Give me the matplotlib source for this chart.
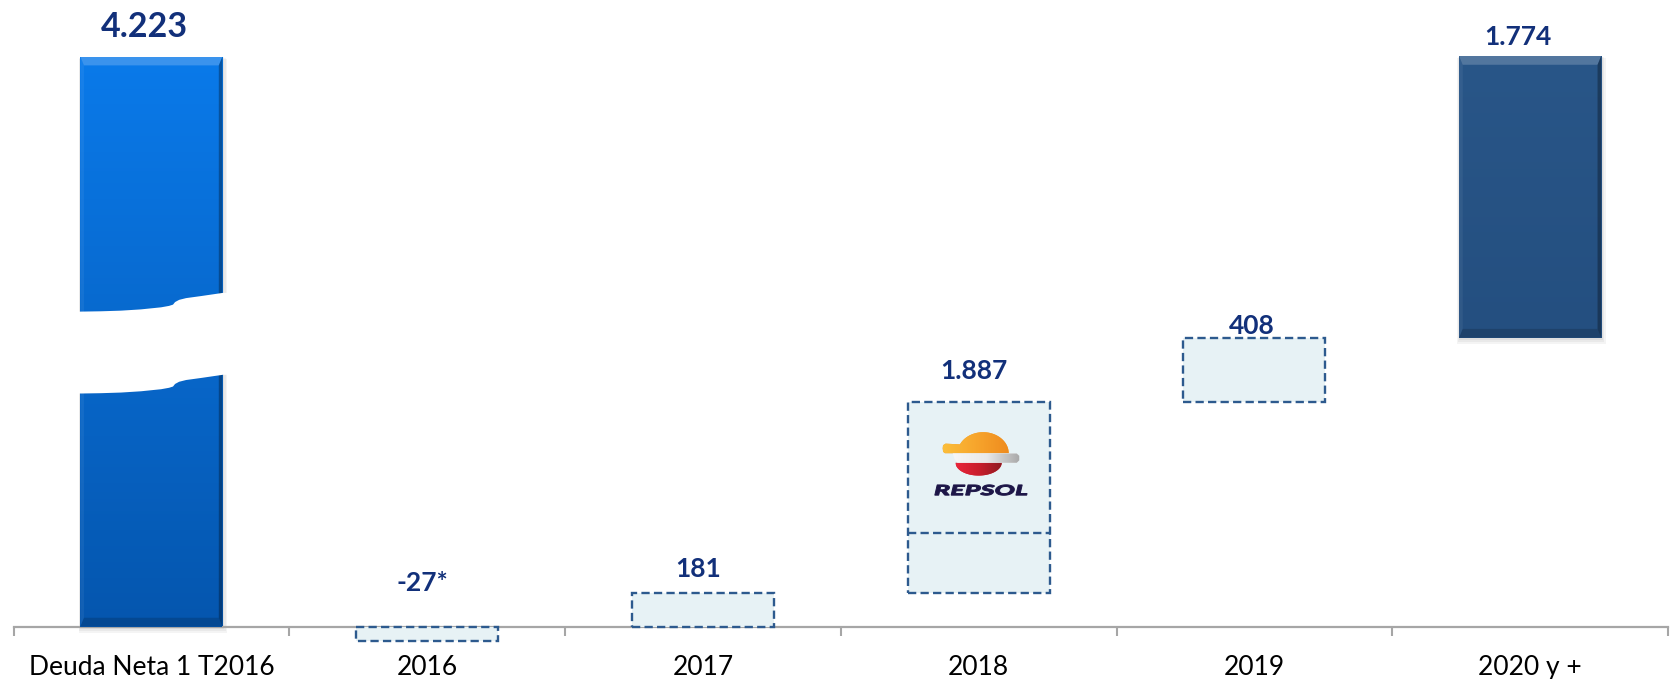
import numpy as np
import matplotlib
matplotlib.use('Agg')
import matplotlib.pyplot as plt
from matplotlib.colors import LinearSegmentedColormap
from matplotlib.patches import Polygon, PathPatch
from matplotlib.textpath import TextPath
from matplotlib.font_manager import FontProperties
from matplotlib.transforms import Affine2D

plt.rcParams['font.family'] = ['Lato', 'DejaVu Sans']

# datos (millones de euros)
categories = ['Deuda Neta 1 T2016', '2016', '2017', '2018', '2019', '2020 y +']
values = [4223, -27, 181, 1887, 408, 1774]
# la lámina no está a escala: alturas tal como se dibujan, en las mismas unidades
drawn = [3590, -90, 211, 1201, 408, 1774]
repsol_part = 379          # tramo inferior de la caja de 2018

value_labels = [f'{v:,}'.replace(',', '.') for v in values]
value_labels[1] += '*'

NAVY = '#12307A'
BOX_FILL = '#E7F2F5'
BOX_EDGE = '#2D5A8E'
AXIS_GREY = '#A6A6A6'
W = 0.515
DASH = (0, (3.5, 1.8))
DASH_LW = 1.7


def gradient(ax, patch, colors, horizontal=False, z=None):
    ext = patch.get_path().get_extents() if isinstance(patch, Polygon) else patch.get_bbox()
    g = np.linspace(0, 1, 256)
    g = g.reshape(1, -1) if horizontal else g.reshape(-1, 1)
    cmap = LinearSegmentedColormap.from_list('g', colors)
    im = ax.imshow(g, cmap=cmap, extent=(ext.x0, ext.x1, ext.y0, ext.y1), origin='lower',
                   aspect='auto', interpolation='bicubic',
                   zorder=(patch.zorder + 0.1) if z is None else z)
    im.set_clip_path(patch)
    return im


def solid_bar(ax, i, bottom, height, c_top, c_bot):
    # sombra suave
    for k in range(1, 4):
        ax.bar(i + 0.002 * k, height + 10 * k, bottom=bottom - 14 * k, width=W + 0.008 * k,
               color='black', alpha=0.045, lw=0, zorder=2)
    rect = ax.bar(i, height, bottom=bottom, width=W, color=c_bot, lw=0, zorder=3)[0]
    gradient(ax, rect, [c_bot, c_top])
    # biselado
    x0, x1 = i - W / 2, i + W / 2
    y0, y1 = bottom, bottom + height
    bx, by = 0.013, 55
    ax.fill([x0, x1, x1 - bx, x0 + bx], [y1, y1, y1 - by, y1 - by], color='white', alpha=0.2, lw=0, zorder=4)
    ax.fill([x0, x1, x1 - bx, x0 + bx], [y0, y0, y0 + by, y0 + by], color='black', alpha=0.16, lw=0, zorder=4)
    ax.fill([x0, x0, x0 + bx, x0 + bx], [y0, y1, y1 - by, y0 + by], color='white', alpha=0.06, lw=0, zorder=4)
    ax.fill([x1, x1, x1 - bx, x1 - bx], [y0, y1, y1 - by, y0 + by], color='black', alpha=0.3, lw=0, zorder=4)
    return rect


fig = plt.figure(figsize=(16.71, 6.79), dpi=100)
ax = fig.add_axes([0, 0, 1, 1])

x = np.arange(len(categories))
bottoms = [0]
run = 0
for h in drawn[1:]:
    bottoms.append(run)
    run += max(h, 0)
tops = [max(b, b + h) for b, h in zip(bottoms, drawn)]

# barras sólidas
solid_bar(ax, 0, bottoms[0], drawn[0], '#0A7AEA', '#0556AE')
solid_bar(ax, 5, bottoms[5], drawn[5], '#295688', '#244F80')

# corte de la primera barra
prof_t = [0, .141, .282, .423, .565, .621, .649, .663, .692, .741, .847, 1.0]
prof_r = [0, 2, 6, 14, 27, 36, 44, 60, 74, 85, 98, 118]
BREAK_AT, BREAK_GAP = 1471, 516
xs = np.linspace(-W / 2 - 0.04, W / 2 + 0.04, 300)
rise = np.interp((xs + W / 2) / W, prof_t, prof_r)
ax.fill_between(xs, BREAK_AT + rise, BREAK_AT + BREAK_GAP + rise, color='white', lw=0, zorder=6)

# pasos intermedios (cajas punteadas)
for i in range(1, 5):
    ax.bar(x[i], drawn[i], bottom=bottoms[i], width=W, color=BOX_FILL, edgecolor=BOX_EDGE,
           linewidth=DASH_LW, linestyle=DASH, zorder=3)
ax.plot([3 - W / 2, 3 + W / 2], [bottoms[3] + repsol_part] * 2, color=BOX_EDGE, lw=DASH_LW,
        ls=DASH, zorder=4)

# etiquetas de valor
label_off = [(-5, 14.4), (-3.6, 25.6), (-3.2, 11.5), (-3.6, 16.7), (-2.2, 2.9), (-8.6, 7.8)]
label_size = [24.5, 19, 19, 19, 19, 19]
for i, txt in enumerate(value_labels):
    ax.annotate(txt, (x[i], tops[i]), xytext=label_off[i], textcoords='offset points',
                ha='center', va='baseline', fontsize=label_size[i], fontweight='bold',
                color=NAVY, zorder=7)

# logo Repsol dentro de la caja de 2018
lx = ax.inset_axes([3 - 0.2, bottoms[3] + 0.49 * drawn[3], 0.4, 0.38 * drawn[3]],
                   transform=ax.transData)
lx.set_xlim(0, 110)
lx.set_ylim(0, 72)
lx.axis('off')

a = np.radians(np.linspace(0, 155, 60))
dome = np.column_stack([59.5 + 25.5 * np.cos(a), 46 + 21 * np.sin(a)])
visor = np.array([[22, 55.6], [19.5, 54], [19, 51], [19.6, 47.5], [21.5, 46]])
orange = Polygon(np.vstack([dome, visor]), closed=True, fc='#F5A12B', ec='none', zorder=2)
lx.add_patch(orange)
gradient(lx, orange, ['#FBBE3A', '#F7A52C', '#EE8A1E'], horizontal=True)

band = Polygon([[29, 45.8], [93, 45.8], [95.5, 43.5], [95.5, 39], [93, 36.6], [34, 36.6], [31, 40]],
               closed=True, fc='#EEEEEE', ec='none', zorder=2)
lx.add_patch(band)
gradient(lx, band, ['#F6F6F6', '#E9E9E9', '#A8A8A8'], horizontal=True)

b = np.radians(np.linspace(180, 360, 60))
red = Polygon(np.column_stack([55 + 23 * np.cos(b), 36.6 + 12.7 * np.sin(b)]), closed=True,
              fc='#D8212F', ec='none', zorder=2)
lx.add_patch(red)
gradient(lx, red, ['#E8253A', '#C81E2C', '#8C1A20'], horizontal=True)

tp = TextPath((0, 0), 'REPSOL', size=10,
              prop=FontProperties(family=['Lato', 'DejaVu Sans'], weight='black', style='italic'))
ext = tp.get_extents()
tr = Affine2D().translate(-ext.x0, -ext.y0).scale(92 / ext.width, 10.4 / ext.height).translate(11.3, 4.3)
lx.add_patch(PathPatch(tr.transform_path(tp), fc='#1D1647', ec='#1D1647', lw=0.7, zorder=3))

# ejes
for s in ['left', 'right', 'top']:
    ax.spines[s].set_visible(False)
ax.spines['bottom'].set_position(('data', 0))
ax.spines['bottom'].set_bounds(-0.5, 5.5)
ax.spines['bottom'].set_color(AXIS_GREY)
ax.spines['bottom'].set_linewidth(1.6)
ax.spines['bottom'].set_zorder(2.5)
ax.set_xticks(x, categories)
ax.set_xticks(np.arange(-0.5, 6), minor=True)
ax.tick_params(axis='x', which='major', length=0, pad=20.5, labelsize=19, labelcolor='black')
ax.tick_params(axis='x', which='minor', length=6.5, width=1.5, color=AXIS_GREY, direction='out')
ax.set_yticks([])

px = 6.3
ax.set_xlim(-0.5 - 13.5 / 275.75, -0.5 + (1671 - 13.5) / 275.75)
ax.set_ylim(-52.5 * px, 626.5 * px)
ax.set_aspect('auto')

fig.savefig('out.png', dpi=100)
